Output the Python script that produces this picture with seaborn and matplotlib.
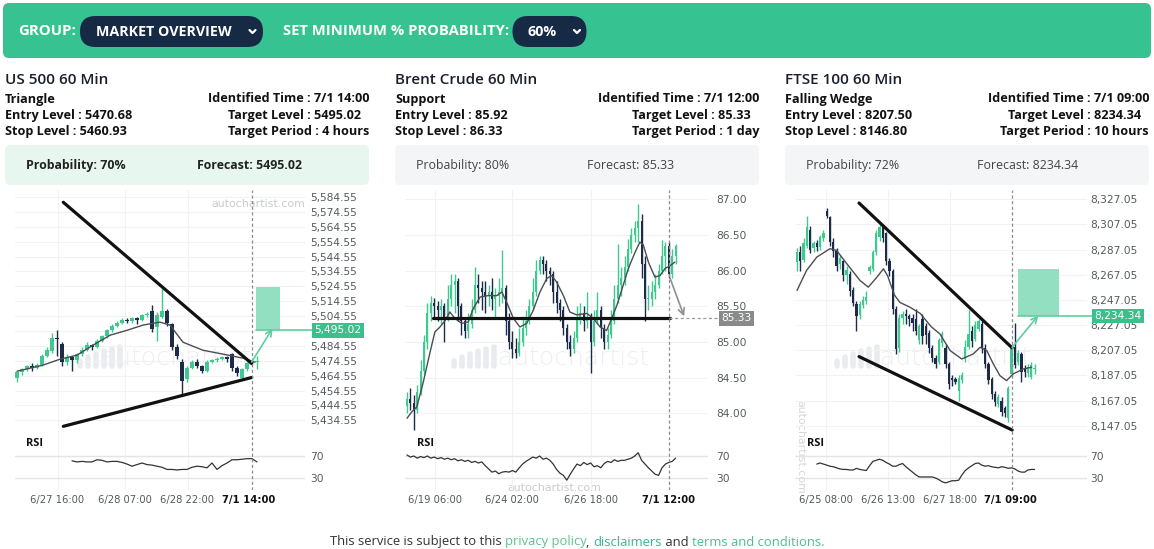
import numpy as np
import pandas as pd
import matplotlib
matplotlib.use("Agg")
import matplotlib.pyplot as plt
from matplotlib.patches import FancyBboxPatch, Rectangle
from matplotlib.ticker import FuncFormatter
import seaborn as sns

# ---------------------------------------------------------------- data
# US 500 60 Min (Triangle)
us_open = [5463, 5467, 5469, 5471, 5470, 5472, 5478, 5481, 5490, 5486,
           5474, 5477, 5475, 5479, 5482, 5485, 5484, 5488, 5491, 5495,
           5498, 5500, 5502, 5501, 5503, 5502, 5505, 5508, 5497, 5504,
           5508, 5499, 5484, 5474, 5462, 5470, 5474, 5471, 5468, 5474,
           5475, 5476, 5477, 5479, 5470, 5463, 5469, 5473, 5474]
us_close = [5467, 5469, 5471, 5470, 5472, 5478, 5482, 5490, 5489, 5474,
            5477, 5475, 5479, 5482, 5485, 5484, 5488, 5491, 5495, 5498,
            5500, 5502, 5501, 5503, 5502, 5505, 5506, 5496, 5505, 5508,
            5500, 5484, 5478, 5461, 5470, 5474, 5471, 5468, 5474, 5475,
            5476, 5477, 5476, 5470, 5466, 5469, 5473, 5474, 5474]
us_high = [5468, 5470, 5472, 5473, 5473, 5479, 5484, 5493, 5495, 5487,
           5479, 5478, 5480, 5484, 5487, 5486, 5489, 5492, 5496, 5499,
           5501, 5503, 5503, 5504, 5504, 5506, 5507, 5512, 5507, 5524,
           5509, 5500, 5486, 5476, 5471, 5475, 5476, 5472, 5475, 5476,
           5477, 5478, 5478, 5480, 5471, 5470, 5474, 5476, 5478]
us_low = [5460, 5465, 5468, 5468, 5469, 5471, 5477, 5480, 5478, 5471,
          5472, 5468, 5473, 5478, 5481, 5482, 5483, 5487, 5490, 5494,
          5497, 5499, 5500, 5500, 5499, 5501, 5504, 5494, 5488, 5503,
          5498, 5482, 5476, 5452, 5460, 5469, 5470, 5466, 5467, 5473,
          5474, 5475, 5474, 5468, 5464, 5462, 5468, 5472, 5469]
us_sma_x = [0, 5.2, 8.6, 12, 15.2, 18.6, 22, 25.2, 28.6, 30.6, 33.2, 37.2, 41.2, 45.2, 47.6]
us_sma_y = [5467.5, 5471.6, 5475.6, 5478.3, 5485.0, 5491.7, 5495.0, 5498.5, 5500.5,
            5498.5, 5487.0, 5481.6, 5479.0, 5476.3, 5473.6]
us_rsi_start = 11
us_rsi = [61, 59, 60, 59, 59, 63, 62, 59, 60, 60, 58, 55, 51, 54, 57, 54, 53, 51, 49,
          45, 45, 44, 45, 45, 49, 51, 50, 48, 57, 45, 52, 57, 63, 63, 64, 65, 65, 59]
us_upper = ([9.26, 46.94], [5581.0, 5472.7])
us_lower = ([9.26, 46.94], [5430.5, 5463.3])
us_zone_x = [47.8, 52.6]
us_zone_y = [5495.02, 5524.2]
us_arrow = ([46.94, 51.1], [5473.8, 5496.2])
us_ident = 46.94
us_target = 5495.02
us_ticks_y = [5434.55, 5444.55, 5454.55, 5464.55, 5474.55, 5484.55, 5494.55,
              5504.55, 5514.55, 5524.55, 5534.55, 5544.55, 5554.55, 5564.55,
              5574.55, 5584.55]
us_ticks_x = [8.1, 21.5, 34.1, 46.3]
us_tick_labels = ["6/27 16:00", "6/28 07:00", "6/28 22:00", "7/1 14:00"]

# Brent Crude 60 Min (Support)
br_first_open = 84.10
br_close = [84.20, 84.15, 84.05, 84.30, 84.60, 85.00, 85.40, 85.55, 85.50, 85.45,
            85.50, 85.35, 85.60, 85.80, 85.85, 85.50, 85.30, 85.15, 85.25, 85.45,
            85.80, 85.75, 85.70, 85.65, 85.70, 85.60, 85.65, 85.70, 85.75, 85.30,
            85.00, 84.90, 84.85, 85.00, 85.20, 85.30, 85.50, 85.70, 86.00, 86.15,
            86.10, 86.00, 85.95, 85.70, 85.55, 85.45, 85.20, 85.00, 84.90, 85.05,
            85.35, 85.40, 85.30, 85.35, 85.00, 85.30, 85.45, 85.20, 85.00, 85.10,
            85.30, 85.60, 85.80, 85.90, 86.05, 86.30, 86.50, 86.60, 86.70, 86.10,
            85.60, 85.60, 85.70, 85.80, 86.00, 86.20, 86.35, 85.95, 86.20, 86.35]
br_high = [84.30, 84.35, 84.25, 84.40, 84.75, 85.10, 85.55, 85.65, 85.62, 85.58,
           85.60, 85.55, 85.80, 85.95, 85.95, 85.90, 85.55, 85.35, 85.40, 85.60,
           86.05, 85.95, 85.85, 85.85, 85.80, 85.90, 85.75, 85.90, 86.29, 85.80,
           85.40, 85.15, 85.05, 85.20, 85.35, 85.45, 85.60, 85.90, 86.15, 86.20,
           86.20, 86.15, 86.05, 86.00, 85.85, 85.60, 85.50, 85.25, 85.10, 85.15,
           85.50, 85.55, 85.50, 85.70, 85.40, 85.45, 85.70, 85.50, 85.25, 85.20,
           85.45, 85.80, 86.38, 86.05, 86.20, 86.45, 86.60, 86.70, 86.94, 86.80,
           86.20, 85.80, 85.85, 85.95, 86.10, 86.43, 86.40, 86.40, 86.30, 86.38]
br_low = [84.00, 84.05, 83.76, 84.00, 84.25, 84.55, 84.90, 85.30, 85.35, 85.30,
          85.25, 85.00, 85.30, 85.50, 85.40, 85.30, 85.10, 85.05, 85.05, 85.20,
          85.40, 85.55, 85.45, 85.40, 85.50, 85.45, 85.35, 85.50, 85.55, 85.10,
          84.90, 84.78, 84.78, 84.80, 84.95, 85.10, 85.25, 85.45, 85.65, 85.95,
          85.95, 85.85, 85.80, 85.55, 85.40, 85.30, 85.10, 84.90, 84.80, 84.85,
          85.00, 85.25, 85.15, 85.20, 84.56, 84.95, 85.25, 85.05, 84.90, 84.90,
          85.05, 85.25, 85.55, 85.65, 85.80, 86.00, 86.25, 86.40, 86.40, 85.90,
          85.30, 85.45, 85.50, 85.60, 85.75, 85.95, 86.00, 85.90, 85.90, 86.10]
br_sma_x = [0, 1.4, 2.9, 4.8, 6.8, 8.2, 9.7, 11.2, 12.6, 14.1, 16.1, 18, 19.5, 21.5,
            23.9, 26.4, 27.9, 29.3, 31.3, 33.2, 35.2, 37.1, 39.1, 41.1, 42.6, 44, 46,
            47.9, 49.9, 52.9, 54.8, 56.8, 58.7, 60.2, 61.7, 63.1, 65.1, 67.1, 68.5,
            69.5, 71, 72.9, 74.4, 75.9, 77.4, 78.8]
br_sma_y = [83.93, 84.02, 84.09, 84.44, 84.86, 85.14, 85.21, 85.30, 85.42, 85.33,
            85.26, 85.28, 85.47, 85.63, 85.65, 85.65, 85.70, 85.56, 85.33, 85.21,
            85.26, 85.44, 85.70, 85.89, 85.93, 85.84, 85.65, 85.42, 85.38, 85.40,
            85.33, 85.21, 85.16, 85.33, 85.51, 85.72, 86.03, 86.26, 86.40, 86.36,
            86.12, 85.91, 85.93, 86.03, 86.07, 86.12]
br_rsi_start = 0
br_rsi = [72, 68, 70, 66, 69, 67, 70, 66, 68, 65, 67, 64, 66,
          63, 65, 61, 63, 60, 62, 58, 60, 57, 59,
          52, 46, 40, 42, 37, 40, 41, 40, 43, 40,
          48, 55, 60, 64, 68, 66, 70, 64, 66, 62,
          55, 45, 38, 34, 25, 36, 46, 55, 52, 58, 54, 57,
          50, 52, 48, 56, 60, 58, 63, 60, 62, 62, 64, 66,
          70, 76, 62, 55, 48, 42, 36, 34, 48, 55, 58, 60, 66]
br_support = ([7.7, 77.4], [85.33, 85.33])
br_arrow = ([77.4, 81.5], [85.89, 85.36])
br_ident = 77.1
br_target = 85.33
br_ticks_y = [84.00, 84.50, 85.00, 85.50, 86.00, 86.50, 87.00]
br_ticks_x = [8.2, 31.0, 54.1, 76.9]
br_tick_labels = ["6/19 06:00", "6/24 02:00", "6/26 18:00", "7/1 12:00"]

# FTSE 100 60 Min (Falling Wedge)
ft_open = [8277, 8285, 8279, 8290, 8303, 8288, 8292, 8289, 8296, 8318,
           8313, 8293, 8286, 8276, 8278, 8267, 8268, 8255, 8244, 8235,
           8243, 8246, 8270, 8272, 8285, 8297, 8305, 8300, 8278, 8270,
           8240, 8209, 8233, 8236, 8234, 8233, 8232, 8215, 8232, 8226,
           8221, 8209, 8201, 8198, 8213, 8209, 8196, 8185, 8184, 8175,
           8183, 8200, 8210, 8222, 8216, 8224, 8228, 8209, 8196, 8184,
           8172, 8164, 8167, 8161, 8153, 8188, 8210, 8198, 8204, 8193,
           8189, 8186, 8192]
ft_close = [8285, 8278, 8292, 8305, 8287, 8292, 8289, 8297, 8300, 8314,
            8293, 8286, 8274, 8280, 8267, 8271, 8254, 8245, 8234, 8244,
            8247, 8249, 8273, 8285, 8300, 8305, 8296, 8278, 8270, 8240,
            8208, 8233, 8236, 8234, 8232, 8229, 8222, 8226, 8218, 8219,
            8209, 8201, 8196, 8215, 8220, 8196, 8180, 8183, 8182, 8185,
            8187, 8210, 8220, 8214, 8227, 8230, 8209, 8196, 8183, 8172,
            8166, 8170, 8158, 8157, 8177, 8209, 8195, 8205, 8190, 8190,
            8194, 8195, 8192]
ft_high = [8288, 8290, 8296, 8314, 8306, 8294, 8295, 8299, 8303, 8320,
           8314, 8296, 8288, 8283, 8279, 8274, 8270, 8257, 8246, 8246,
           8250, 8254, 8275, 8287, 8303, 8308, 8307, 8301, 8280, 8272,
           8242, 8236, 8238, 8240, 8236, 8236, 8240, 8228, 8236, 8229,
           8223, 8211, 8203, 8217, 8222, 8212, 8198, 8187, 8186, 8187,
           8190, 8215, 8239, 8226, 8230, 8232, 8230, 8212, 8198, 8186,
           8175, 8172, 8170, 8163, 8179, 8211, 8229, 8207, 8206, 8195,
           8196, 8198, 8196]
ft_low = [8270, 8270, 8277, 8288, 8284, 8285, 8286, 8287, 8294, 8312,
          8290, 8281, 8270, 8272, 8262, 8260, 8250, 8242, 8222, 8232,
          8241, 8244, 8268, 8270, 8283, 8294, 8293, 8275, 8266, 8236,
          8204, 8206, 8228, 8228, 8226, 8222, 8219, 8212, 8212, 8212,
          8205, 8198, 8193, 8196, 8210, 8193, 8176, 8179, 8180, 8167,
          8181, 8198, 8208, 8210, 8214, 8222, 8205, 8193, 8180, 8168,
          8163, 8162, 8155, 8154, 8150, 8186, 8193, 8195, 8182, 8186,
          8186, 8184, 8188]
ft_sma_x = [0, 2.9, 6, 10, 12, 15.1, 19.1, 21.6, 24.2, 26.2, 27.5, 29.5, 31.2, 34,
            37.3, 40.7, 43.3, 46.4, 49.9, 53.4, 55.5, 57.5, 59.5, 61.5, 63.5, 65.5,
            68.6, 71.1]
ft_sma_y = [8254.6, 8270.5, 8281.1, 8287.8, 8286.4, 8275.8, 8262.5, 8257.2, 8265.1,
            8271.8, 8266.0, 8251.0, 8245.0, 8241.6, 8236.4, 8225.7, 8220.0, 8206.8,
            8200.1, 8204.1, 8209.4, 8206.8, 8196.1, 8186.8, 8182.9, 8188.2, 8192.2,
            8193.5]
ft_rsi_start = 6
ft_rsi = [55, 57, 55, 53, 51, 50, 48, 46, 45, 45,
          44, 44, 47, 45, 44, 43, 52, 60, 62, 64,
          62, 58, 55, 51, 51, 54, 56, 50, 45, 40,
          35, 31, 31, 31, 31, 31, 29, 26, 22, 20,
          22, 24, 24, 25, 35, 43, 48, 52, 56, 57,
          53, 51, 52, 50, 49, 48, 50, 49, 47, 48,
          46, 42, 40, 40, 44, 45, 45]
ft_upper = ([18.8, 65.2], [8324.1, 8208.9])
ft_lower = ([18.8, 65.2], [8202.0, 8143.6])
ft_zone_x = [67.1, 79.4]
ft_zone_y = [8234.34, 8271.9]
ft_arrow = ([65.2, 73.1], [8209.4, 8234.6])
ft_ident = 65.2
ft_target = 8234.34
ft_ticks_y = [8147.05, 8167.05, 8187.05, 8207.05, 8227.05, 8247.05, 8267.05,
              8287.05, 8307.05, 8327.05]
ft_ticks_x = [8.8, 27.7, 46.4, 64.8]
ft_tick_labels = ["6/25 08:00", "6/26 13:00", "6/27 18:00", "7/1 09:00"]

# panel texts
titles = ["US 500 60 Min", "Brent Crude 60 Min", "FTSE 100 60 Min"]
patterns = ["Triangle", "Support", "Falling Wedge"]
entry = ["5470.68", "85.92", "8207.50"]
stop = ["5460.93", "86.33", "8146.80"]
ident_time = ["7/1 14:00", "7/1 12:00", "7/1 09:00"]
target_lvl = ["5495.02", "85.33", "8234.34"]
target_period = ["4 hours", "1 day", "10 hours"]
probability = [70, 80, 72]
forecast = ["5495.02", "85.33", "8234.34"]

# ---------------------------------------------------------------- style
sns.set_theme(style="white")
plt.rcParams["font.family"] = ["Open Sans", "DejaVu Sans"]

W, H = 1154, 549
HDR_GREEN = "#36c391"
NAVY = "#172a45"
UP = "#3fc98f"
DOWN = "#1b2b48"
ZONE = "#93dfc1"
LBL_GREEN = "#3dbf8b"
TXT = "#1b1e2b"
TICK = "#555a60"
GRID = "#f1f2f4"


def pt(px):
    return px * 0.72


fig = plt.figure(figsize=(W / 100, H / 100), dpi=100)
fig.patch.set_facecolor("white")
ov = fig.add_axes([0, 0, 1, 1], zorder=0)
ov.set_xlim(0, W)
ov.set_ylim(H, 0)
ov.axis("off")

# ---------------------------------------------------------------- header
ov.add_patch(FancyBboxPatch((3, 3), 1148, 55, boxstyle="round,pad=0,rounding_size=6",
                            fc=HDR_GREEN, ec="none"))
ov.text(18, 31, "GROUP:", color="white", fontsize=pt(15), fontweight="bold", va="center")
ov.add_patch(FancyBboxPatch((80, 16), 183, 31, boxstyle="round,pad=0,rounding_size=15.5",
                            fc=NAVY, ec="none"))
ov.text(95.5, 31.5, "MARKET OVERVIEW", color="white", fontsize=pt(14.2), fontweight="bold",
        va="center")
ov.text(283, 31, "SET MINIMUM % PROBABILITY:", color="white", fontsize=pt(14.7),
        fontweight="bold", va="center")
ov.add_patch(FancyBboxPatch((512.5, 16), 74, 31, boxstyle="round,pad=0,rounding_size=15.5",
                            fc=NAVY, ec="none"))
ov.text(528, 31.5, "60%", color="white", fontsize=pt(14.2), fontweight="bold", va="center")
for cxv in (252.5, 577):
    ov.plot([cxv - 3, cxv, cxv + 3], [30, 33, 30], color="white", lw=1.6,
            solid_capstyle="round", solid_joinstyle="round")

# ---------------------------------------------------------------- panel texts
col_left = [5, 395, 785]
col_right = [369, 759, 1149]
for k in range(3):
    cx, rx = col_left[k], col_right[k]
    ov.text(cx, 80, titles[k], color=TXT, fontsize=pt(15.2), fontweight=600, va="center")
    ov.text(cx, 99, patterns[k], color="#111", fontsize=pt(12.6), fontweight="bold", va="center")
    ov.text(cx, 115, f"Entry Level : {entry[k]}", color="#111", fontsize=pt(12.6),
            fontweight="bold", va="center")
    ov.text(cx, 131, f"Stop Level : {stop[k]}", color="#111", fontsize=pt(12.6),
            fontweight="bold", va="center")
    ov.text(rx, 99, f"Identified Time : {ident_time[k]}", color="#111", fontsize=pt(12.6),
            fontweight="bold", va="center", ha="right")
    ov.text(rx - 8, 115, f"Target Level : {target_lvl[k]}", color="#111", fontsize=pt(12.6),
            fontweight="bold", va="center", ha="right")
    ov.text(rx, 131, f"Target Period : {target_period[k]}", color="#111", fontsize=pt(12.6),
            fontweight="bold", va="center", ha="right")
    fc = "#e7f6ef" if k == 0 else "#f4f5f7"
    ov.add_patch(FancyBboxPatch((cx, 145), rx - cx, 40, boxstyle="round,pad=0,rounding_size=5",
                                fc=fc, ec="none"))
    w = "bold" if k == 0 else "normal"
    col = "#222" if k == 0 else "#444"
    ov.text(cx + 21, 165.5, f"Probability: {probability[k]}%", color=col, fontsize=pt(12.4),
            fontweight=w, va="center")
    ov.text(cx + 192, 165.5, f"Forecast: {forecast[k]}", color=col, fontsize=pt(12.4),
            fontweight=w, va="center")

# ---------------------------------------------------------------- watermarks
for (lx, tx) in [(78, 100), (452, 498), (835, 880)]:
    hs = [5, 9, 12, 15, 17, 19]
    for j, hh in enumerate(hs):
        xx = lx + 2 + j * 8
        ov.plot([xx, xx], [366, 366 - hh], color="#e9ebef", lw=4, solid_capstyle="round", zorder=0)
    ov.text(tx, 358, "autochartist", color="#eceef1", fontsize=pt(25), va="center", ha="left",
            family="DejaVu Sans", fontweight="light", zorder=0)
ov.text(305, 204, "autochartist.com", color="#c9cbcf", fontsize=pt(11), ha="right", va="center",
        family="DejaVu Sans")
ov.text(554, 488, "autochartist.com", color="#c9cbcf", fontsize=pt(11), ha="center", va="center",
        family="DejaVu Sans")
ov.text(800, 447, "autochartist.com", color="#d4d6da", fontsize=pt(11), ha="center", va="center",
        rotation=-90, family="DejaVu Sans")

# ---------------------------------------------------------------- charts
PRICE_TOP, PRICE_BOT, RSI_BOT = 190, 440, 490
RSI70_Y, RSI30_Y = 456.0, 477.5


def rsi_at(y):
    return 70 - (y - RSI70_Y) * 40.0 / (RSI30_Y - RSI70_Y)


def chart(P):
    x0, x1 = P["ax_x"]
    px0, sp = P["px0"], P["sp"]
    xl = ((x0 - px0) / sp, (x1 - px0) / sp)

    def price_at(y):
        return P["ref_p"] - (y - P["ref_y"]) * P["kp"]

    ax = fig.add_axes([x0 / W, 1 - PRICE_BOT / H, (x1 - x0) / W, (PRICE_BOT - PRICE_TOP) / H],
                      zorder=2)
    ax.set_facecolor("none")
    ax.set_xlim(*xl)
    ax.set_ylim(price_at(PRICE_BOT), price_at(PRICE_TOP))
    for s in ax.spines.values():
        s.set_visible(False)
    ax.yaxis.tick_right()
    ax.set_yticks(P["ticks_y"])
    hide = P.get("hide_label")

    def fmt_tick(v, pos):
        if hide is not None and abs(v - hide) < 1e-6:
            return ""
        return P["fmt"](v, pos)

    ax.yaxis.set_major_formatter(FuncFormatter(fmt_tick))
    ax.tick_params(axis="y", length=0, pad=pt(P["lpad"]), labelsize=pt(10.6), labelcolor=TICK,
                   labelfontfamily="DejaVu Sans")
    ax.set_xticks([])
    ax.grid(True, axis="y", color=GRID, lw=0.8, zorder=0)
    for xv in P["ticks_x"][:-1]:
        ax.axvline(xv, color=GRID, lw=0.8, zorder=0)

    o = np.asarray(P["open"], float)
    c = np.asarray(P["close"], float)
    h = np.asarray(P["high"], float)
    l = np.asarray(P["low"], float)
    xs = np.arange(len(c))
    cols = np.where(c >= o, UP, DOWN)
    ax.vlines(xs, l, h, colors=cols, lw=1.0, zorder=3)
    body = np.maximum(np.abs(c - o), P["min_body"])
    ax.bar(xs, body, bottom=np.minimum(o, c), width=P["bw"], color=cols, linewidth=0, zorder=4)

    sma = pd.DataFrame({"x": P["sma_x"], "y": P["sma_y"]})
    sns.lineplot(data=sma, x="x", y="y", ax=ax, color="#4a4d52", lw=1.0, estimator=None,
                 sort=False, zorder=5)
    ax.set_xlabel("")
    ax.set_ylabel("")

    for (lx, ly) in P["lines"]:
        ax.plot(lx, ly, color="#111111", lw=2.3, solid_capstyle="round", zorder=6)

    ax.axvline(P["ident"], color="#8c8c8c", lw=0.9, ls=(0, (2.5, 2)), zorder=6)

    extra = (P["lbl_off"]) / sp
    if P.get("zone_x") is not None:
        zx, zy = P["zone_x"], P["zone_y"]
        ax.add_patch(Rectangle((zx[0], zy[0]), zx[1] - zx[0], zy[1] - zy[0], fc=ZONE, ec="none",
                               zorder=5))
        ax.plot([zx[0], xl[1] + extra], [P["target"]] * 2, color="#5ccf9f", lw=1.2, zorder=6,
                clip_on=False)
        arrow_col = "#5ccf9f"
        box_col = LBL_GREEN
    else:
        ax.plot([P["ident"], xl[1] + extra], [P["target"]] * 2, color="#9a9a9a", lw=0.9,
                ls=(0, (2.5, 2)), zorder=6, clip_on=False)
        arrow_col = "#8f8f8f"
        box_col = "#8a8a8a"
    (ax0, ax1), (ay0, ay1) = P["arrow"]
    ax.annotate("", xy=(ax1, ay1), xytext=(ax0, ay0),
                arrowprops=dict(arrowstyle="->", color=arrow_col, lw=1.2,
                                shrinkA=0, shrinkB=0, mutation_scale=11), zorder=7)
    ax.text(xl[1] + extra + 3 / sp, P["target"], P["fmt"](P["target"], None), color="white",
            fontsize=pt(10.6), family="DejaVu Sans", va="center", ha="left", zorder=10,
            clip_on=False,
            bbox=dict(boxstyle="square,pad=0.22", fc=box_col, ec="none"))

    # RSI
    rax = fig.add_axes([x0 / W, 1 - RSI_BOT / H, (x1 - x0) / W, (RSI_BOT - PRICE_BOT) / H],
                       zorder=2)
    rax.set_facecolor("none")
    rax.set_xlim(*xl)
    rax.set_ylim(rsi_at(RSI_BOT), rsi_at(PRICE_BOT))
    for s in rax.spines.values():
        s.set_visible(False)
    rax.yaxis.tick_right()
    rax.set_yticks([30, 70])
    rax.set_yticklabels(["30", "70"])
    rax.tick_params(axis="y", length=0, pad=pt(P["lpad"]), labelsize=pt(10.6), labelcolor=TICK,
                    labelfontfamily="DejaVu Sans")
    rax.grid(True, axis="y", color="#e3e4e6", lw=1.0, zorder=0)
    for xv in P["ticks_x"][:-1]:
        rax.axvline(xv, color=GRID, lw=0.8, zorder=0)
    r = pd.DataFrame({"x": P["rsi_start"] + np.arange(len(P["rsi"])), "y": P["rsi"]})
    sns.lineplot(data=r, x="x", y="y", ax=rax, color="#333333", lw=0.9, estimator=None,
                 sort=False, zorder=4)
    rax.set_xlabel("")
    rax.set_ylabel("")
    rax.axvline(P["ident"], color="#8c8c8c", lw=0.9, ls=(0, (2.5, 2)), zorder=6)
    rax.set_xticks(P["ticks_x"])
    rax.set_xticklabels(P["tick_labels"])
    rax.tick_params(axis="x", length=0, pad=pt(5.5), labelsize=pt(10.0), labelcolor=TICK,
                    labelfontfamily="DejaVu Sans")
    last = rax.get_xticklabels()[-1]
    last.set_fontweight("bold")
    last.set_color("#111111")
    ov.text(x0 + P["rsi_lbl_dx"], 444, "RSI", color="#111", fontsize=pt(11), fontweight="bold",
            va="center", ha="left")


def fmt_comma(v, pos):
    return f"{v:,.2f}"


def fmt_plain(v, pos):
    return f"{v:.2f}"


chart(dict(ax_x=(15, 305), px0=17, sp=5.0, ref_p=5584.55, ref_y=197.0, kp=150 / 223.3,
           ticks_y=us_ticks_y, fmt=fmt_comma, lpad=5, ticks_x=us_ticks_x,
           tick_labels=us_tick_labels, open=us_open, close=us_close, high=us_high, low=us_low,
           min_body=0.6, bw=0.62, sma_x=us_sma_x, sma_y=us_sma_y, lines=[us_upper, us_lower],
           ident=us_ident, zone_x=us_zone_x, zone_y=us_zone_y, target=us_target,
           arrow=us_arrow, lbl_off=6.5, rsi_start=us_rsi_start, rsi=us_rsi, rsi_lbl_dx=11,
           hide_label=5494.55))

br_open = [br_first_open] + br_close[:-1]
chart(dict(ax_x=(405, 708), px0=407, sp=3.4, ref_p=87.00, ref_y=199.3, kp=3 / 214.0,
           ticks_y=br_ticks_y, fmt=fmt_plain, lpad=8, ticks_x=br_ticks_x,
           tick_labels=br_tick_labels, open=br_open, close=br_close, high=br_high, low=br_low,
           min_body=0.01, bw=0.6, sma_x=br_sma_x, sma_y=br_sma_y, lines=[br_support],
           ident=br_ident, zone_x=None, zone_y=None, target=br_target,
           arrow=br_arrow, lbl_off=10, rsi_start=br_rsi_start, rsi=br_rsi, rsi_lbl_dx=12))

chart(dict(ax_x=(795, 1087), px0=797, sp=3.3, ref_p=8327.05, ref_y=199.3, kp=180 / 226.4,
           ticks_y=ft_ticks_y, fmt=fmt_comma, lpad=3, ticks_x=ft_ticks_x,
           tick_labels=ft_tick_labels, open=ft_open, close=ft_close, high=ft_high, low=ft_low,
           min_body=0.8, bw=0.7, sma_x=ft_sma_x, sma_y=ft_sma_y, lines=[ft_upper, ft_lower],
           ident=ft_ident, zone_x=ft_zone_x, zone_y=ft_zone_y, target=ft_target,
           arrow=ft_arrow, lbl_off=4.5, rsi_start=ft_rsi_start, rsi=ft_rsi, rsi_lbl_dx=12))

# ---------------------------------------------------------------- footer
parts = [("This service is subject to this ", "#333333"), ("privacy policy", "#5cc48f"),
         (", ", "#333333"), ("disclaimers", "#33b98e"), (" and ", "#333333"),
         ("terms and conditions.", "#4cbf92")]
rend = fig.canvas.get_renderer()
ts, ws = [], []
for s, col in parts:
    t = ov.text(0, 542, s, color=col, fontsize=pt(13.0), va="center", ha="left")
    ts.append(t)
    ws.append(t.get_window_extent(renderer=rend).width)
xcur = 577 - sum(ws) / 2
for t, w in zip(ts, ws):
    t.set_x(xcur)
    xcur += w

fig.savefig("out.png", dpi=100)
